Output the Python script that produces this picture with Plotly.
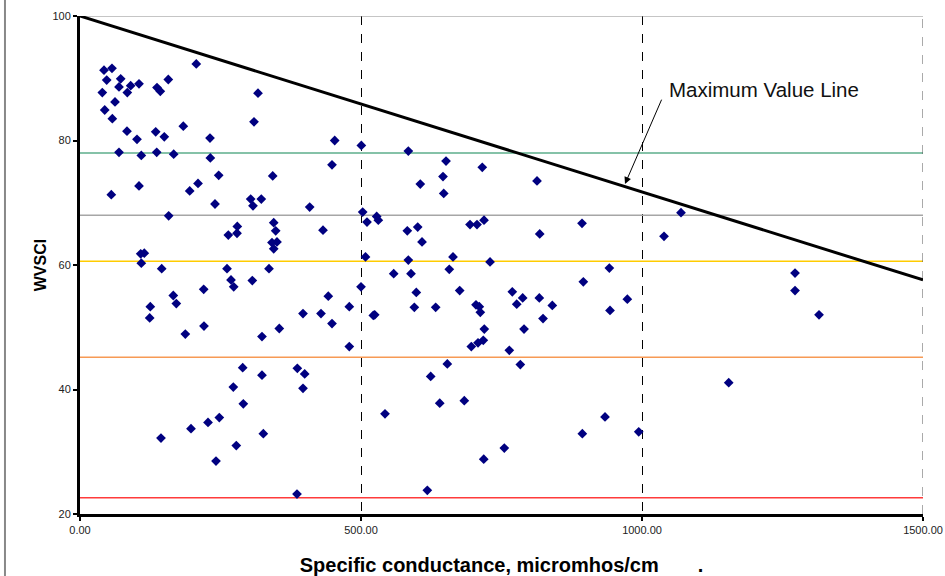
import plotly.graph_objects as go

# Specific conductance (micromhos/cm) and WVSCI score
conductance = [
    206.9, 42.7, 56.9, 47.5, 72.4, 69.4, 90.2, 105.0, 137.0, 142.9, 157.1, 39.7, 84.2, 62.3, 44.0, 57.5,
    316.7, 309.6, 183.8, 83.6, 101.4, 134.7, 150.0, 231.3, 453.2, 500.6, 69.4, 109.1, 136.5, 166.7, 231.9,
    448.4, 246.8, 342.9, 105.0, 55.7, 210.0, 195.2, 240.2, 303.7, 307.8, 322.6, 408.7, 503.0, 157.8, 510.7,
    279.9, 263.9, 279.4, 344.7, 348.2, 432.4, 341.6, 350.5, 344.7, 108.0, 114.4, 109.1, 145.4, 261.6, 336.3,
    508.0,
    584.2, 651.3, 645.9, 605.5, 647.2, 715.8, 813.2, 527.9, 530.8, 582.4, 600.9, 608.6, 694.0, 706.4, 718.9,
    893.3, 818.0, 584.2, 663.7, 729.6, 657.1, 941.9, 558.2, 589.0,
    1069.4, 1039.2, 1272.3,
    268.7, 273.5, 306.6, 500.0, 125.1, 124.0, 166.0, 171.4, 220.1, 220.6, 187.4, 396.8, 428.8, 441.8, 448.4,
    479.2, 479.2, 323.8, 354.6, 289.5, 323.8, 386.7, 399.8, 396.8, 272.8, 290.6, 247.9, 227.8, 197.5, 144.1,
    326.2, 278.1, 242.0, 386.1,
    895.6, 598.4, 675.6, 769.2, 787.7, 817.3, 777.1, 840.4, 823.9, 594.9, 632.9, 704.6, 710.5, 712.3, 719.4,
    521.9, 524.4, 943.1, 973.9, 790.1, 696.3, 708.2, 717.6, 763.9, 653.6, 783.5, 624.0, 640.1, 683.8, 542.7,
    934.2, 893.8, 994.2, 755.0, 718.4, 618.0,
    1272.3, 1315.0, 1154.3,
]
wvsci = [
    92.3, 91.3, 91.6, 89.7, 89.9, 88.6, 88.8, 89.1, 88.5, 87.9, 89.8, 87.7, 87.7, 86.2, 84.9, 83.5,
    87.6, 83.0, 82.3, 81.5, 80.2, 81.4, 80.6, 80.4, 80.0, 79.2, 78.1, 77.6, 78.1, 77.8, 77.2,
    76.1, 74.4, 74.3, 72.7, 71.3, 73.1, 71.9, 69.8, 70.6, 69.5, 70.6, 69.3, 68.5, 67.9, 66.9,
    66.2, 64.8, 65.1, 66.8, 65.5, 65.6, 63.6, 63.7, 62.6, 61.8, 61.9, 60.3, 59.4, 59.4, 59.4,
    61.3,
    78.3, 76.7, 74.2, 73.0, 71.5, 75.7, 73.5, 67.8, 67.2, 65.5, 66.1, 63.7, 66.5, 66.5, 67.2,
    66.7, 65.0, 60.8, 61.3, 60.5, 59.3, 59.5, 58.6, 58.6,
    68.4, 64.6, 58.7,
    57.6, 56.5, 57.5, 56.5, 53.3, 51.5, 55.1, 53.8, 56.1, 50.2, 48.9, 52.2, 52.2, 55.0, 50.6,
    53.3, 46.9, 48.5, 49.8, 43.5, 42.3, 43.4, 42.5, 40.2, 40.4, 37.7, 35.5, 34.7, 33.7, 32.2,
    32.9, 31.0, 28.5, 23.2,
    57.3, 55.6, 55.9, 55.7, 54.7, 54.7, 53.7, 53.5, 51.4, 53.2, 53.2, 53.6, 53.3, 52.4, 49.7,
    51.9, 52.0, 52.7, 54.5, 49.7, 46.9, 47.5, 47.9, 46.3, 44.1, 44.0, 42.1, 37.8, 38.2, 36.1,
    35.6, 32.9, 33.2, 30.6, 28.8, 23.8,
    55.9, 52.0, 41.1,
]

# Maximum value line end points
max_line_x = [0, 1500]
max_line_y = [100, 57.6]

# WVSCI category thresholds
threshold_values = [78, 68, 60.6, 45.2, 22.6]
threshold_colors = ["#5DAE8B", "#A6A6A6", "#FFCC00", "#F79A55", "#FF3B3B"]

x_range = [0, 1500]
y_range = [20, 100]

fig = go.Figure()

for val, col in zip(threshold_values, threshold_colors):
    fig.add_trace(go.Scatter(x=x_range, y=[val, val], mode="lines",
                             line=dict(color=col, width=1.5), hoverinfo="skip", showlegend=False))

# top border line of plot area
fig.add_trace(go.Scatter(x=x_range, y=[y_range[1], y_range[1]], mode="lines",
                         line=dict(color="#8C8C8C", width=1.2), hoverinfo="skip", showlegend=False))
# right border (dashed, like the gridlines)
fig.add_trace(go.Scatter(x=[x_range[1], x_range[1]], y=y_range, mode="lines",
                         line=dict(color="#555555", width=1, dash="dash"), hoverinfo="skip",
                         showlegend=False))

fig.add_trace(go.Scatter(x=conductance, y=wvsci, mode="markers",
                         marker=dict(symbol="diamond", size=7.5, color="#000080"),
                         showlegend=False))

fig.add_trace(go.Scatter(x=max_line_x, y=max_line_y, mode="lines",
                         line=dict(color="black", width=3), showlegend=False))

fig.add_annotation(x=1045, y=88.2, xref="x", yref="y", text="Maximum Value Line",
                   showarrow=False, xanchor="left", yanchor="middle",
                   font=dict(family="Arial, Liberation Sans", size=20.5, color="#111111"))
fig.add_annotation(x=969.7, y=73.0, xref="x", yref="y", ax=1036, ay=86.8,
                   axref="x", ayref="y", text="", showarrow=True,
                   arrowhead=2, arrowsize=1.4, arrowwidth=1, arrowcolor="black")

# outer chart frame (left edge visible)
fig.add_shape(type="line", xref="paper", yref="paper", x0=-0.089, x1=-0.089, y0=-0.14, y1=1.05,
              line=dict(color="#888888", width=2))

fig.update_layout(
    width=945, height=576,
    margin=dict(l=80, r=22, t=16, b=62, autoexpand=False),
    paper_bgcolor="white", plot_bgcolor="white",
    font=dict(family="Arial, Liberation Sans", color="black"),
    showlegend=False,
)
nb = "\u00a0"
fig.update_xaxes(
    range=x_range, dtick=500, tick0=0, tickformat=".2f", automargin=False,
    showline=True, linecolor="black", linewidth=3,
    ticks="outside", ticklen=4, tickwidth=2, tickcolor="black",
    showgrid=True, gridcolor="black", gridwidth=1, griddash="dash",
    zeroline=False,
    tickfont=dict(size=11, color="#222222"),
    title=dict(text="<b>Specific conductance, micromhos/cm" + nb * 7 + ".</b>",
               font=dict(size=20), standoff=23),
)
fig.update_yaxes(
    range=y_range, dtick=20, tick0=20, automargin=False,
    showline=True, linecolor="black", linewidth=3,
    ticks="outside", ticklen=4, tickwidth=2, tickcolor="black",
    showgrid=False, zeroline=False,
    tickfont=dict(size=11, color="#222222"),
    title=dict(text="<b>WVSCI</b>", font=dict(size=16), standoff=2),
)

fig.write_html("out.html", config={"displayModeBar": False},
               post_script="document.body.style.margin='0px';document.body.style.overflow='hidden';")
